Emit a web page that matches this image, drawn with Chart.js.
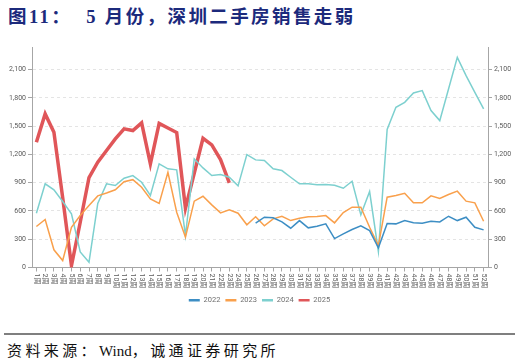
<!DOCTYPE html>
<html>
<head>
<meta charset="utf-8">
<script src="https://cdn.jsdelivr.net/npm/chart.js@4"></script>
<style>
  html, body { margin: 0; padding: 0; background: #fff; }
  body { width: 519px; height: 364px; position: relative; overflow: hidden; }
  #title { position: absolute; left: 8px; top: 2px; font: bold 18.5px "Liberation Serif", "Noto Sans CJK SC", serif; color: #1c2a7c; letter-spacing: 2.4px; white-space: nowrap; }
  #box { position: absolute; left: 0; top: 30px; width: 519px; height: 300px; }
  #rule { position: absolute; left: 4px; top: 333px; width: 511px; height: 2px; background: #7f7f7f; }
  #source { position: absolute; left: 7px; top: 339px; font: 15px "Liberation Serif", "Noto Sans CJK SC", serif; color: #111; letter-spacing: 3.4px; white-space: nowrap; }
  #source span { letter-spacing: 0; }
</style>
</head>
<body>
<div id="title">图11：&nbsp; 5 月份，深圳二手房销售走弱</div>
<div id="box"><canvas id="chart"></canvas></div>
<div id="rule"></div>
<div id="source">资料来源：<span>Wind</span>，诚通证券研究所</div>
<script>
const weeks = ['1周','2周','3周','4周','5周','6周','7周','8周','9周','10周','11周','12周','13周',
  '14周','15周','16周','17周','18周','19周','20周','21周','22周','23周','24周','25周','26周',
  '27周','28周','29周','30周','31周','32周','33周','34周','35周','36周','37周','38周','39周',
  '40周','41周','42周','43周','44周','45周','46周','47周','48周','49周','50周','51周','52周'];
const yTicks = [0, 300, 600, 900, 1200, 1500, 1800, 2100];

const sales2022 = [null, null, null, null, null, null, null, null, null, null, null, null, null,
  null, null, null, null, null, null, null, null, null, null, null, null,
  470, 534, 527, 484, 417, 498, 421, 438, 463, 307, 357, 403, 442, 392, 209,
  466, 463, 498, 474, 470, 491, 484, 544, 498, 534, 427, 399];
const sales2023 = [435, 509, 188, 74, 427, 551, 658, 760, 790, 825,
  910, 932, 852, 728, 679, 1011, 587, 322, 704, 756,
  665, 580, 612, 576, 453, 538, 442, 516, 544, 498,
  523, 538, 541, 551, 474, 583, 640, 640, 427, 233,
  746, 764, 788, 686, 686, 760, 732, 774, 810, 704,
  686, 491];
const sales2024 = [576, 888, 824, 700, 570, 165, 56, 680, 888, 870,
  947, 976, 905, 764, 1100, 1047, 1036, 339, 1153, 1057,
  976, 986, 958, 866, 1198, 1142, 1135, 1047, 1029, 958,
  888, 888, 877, 880, 873, 841, 915, 559, 806, 170,
  1465, 1700, 1753, 1852, 1877, 1665, 1559, 1895, 2230, 2036,
  1859, 1683];
const sales2025 = [1330, 1630, 1435, 740, 20, 480, 955, 1117, 1241, 1365,
  1471, 1453, 1535, 1100, 1530, 1481, 1432, 629, 1000, 1371,
  1301, 1145, 898];

const Y_MAX = 2340;
const AXIS_GREY = '#a6a6a6';
const TEXT_GREY = '#595959';

// x labels read top-to-bottom, so draw them ourselves at the scale's tick pixels
const verticalLabels = {
  id: 'verticalLabels',
  afterDraw(chart) {
    const xs = chart.scales.x;
    const ctx = chart.ctx;
    ctx.save();
    ctx.fillStyle = TEXT_GREY;
    ctx.font = '7px Roboto, "Noto Sans CJK SC", sans-serif';
    ctx.textAlign = 'left';
    ctx.textBaseline = 'middle';
    weeks.forEach((w, i) => {
      ctx.save();
      ctx.translate(xs.getPixelForTick(i), xs.top + 6);
      ctx.rotate(Math.PI / 2);
      ctx.fillText(w, 0, 0);
      ctx.restore();
    });
    ctx.restore();
  }
};

const fixedTicks = scale => { scale.ticks = yTicks.map(v => ({ value: v })); };

new Chart(document.getElementById('chart'), {
  type: 'line',
  data: {
    labels: weeks,
    datasets: [
      { label: '2022', data: sales2022, borderColor: '#3d8ec4', borderWidth: 1.5 },
      { label: '2023', data: sales2023, borderColor: '#f9a04c', borderWidth: 1.5 },
      { label: '2024', data: sales2024, borderColor: '#7dd0cf', borderWidth: 1.5 },
      { label: '2025', data: sales2025, borderColor: '#e05659', borderWidth: 3.5 }
    ]
  },
  options: {
    responsive: true,
    maintainAspectRatio: false,
    animation: false,
    elements: { point: { radius: 0 }, line: { tension: 0, fill: false } },
    layout: { padding: { top: 17, bottom: 16 } },
    plugins: {
      legend: {
        position: 'bottom',
        labels: {
          usePointStyle: true,
          pointStyle: 'line',
          pointStyleWidth: 11,
          padding: 5,
          color: '#6f6f6f',
          font: { family: 'Roboto, sans-serif', size: 7.5 },
          generateLabels(chart) {
            const items = Chart.defaults.plugins.legend.labels.generateLabels(chart);
            items.forEach(it => { it.lineWidth = 2.5; });
            return items;
          }
        }
      },
      tooltip: { enabled: false }
    },
    scales: {
      x: {
        offset: true,
        grid: { display: true, drawOnChartArea: false, tickLength: 4, color: AXIS_GREY },
        border: { color: AXIS_GREY },
        ticks: { autoSkip: false, maxRotation: 90, minRotation: 90, color: 'rgba(0,0,0,0)', font: { size: 7 } },
        afterFit(scale) { scale.height = 24; }
      },
      y: {
        position: 'left',
        min: 0,
        max: Y_MAX,
        afterBuildTicks: fixedTicks,
        grid: { color: '#e4e4e4', tickColor: AXIS_GREY, tickLength: 4 },
        border: { color: AXIS_GREY, dash: [3, 3] },
        ticks: { padding: 2, color: TEXT_GREY, font: { family: 'Roboto, sans-serif', size: 7 } },
        afterFit(scale) { scale.width = 32; }
      },
      y1: {
        position: 'right',
        min: 0,
        max: Y_MAX,
        afterBuildTicks: fixedTicks,
        grid: { drawOnChartArea: false, tickColor: AXIS_GREY, tickLength: 4 },
        border: { color: AXIS_GREY },
        ticks: { padding: 2, color: TEXT_GREY, font: { family: 'Roboto, sans-serif', size: 7 } },
        afterFit(scale) { scale.width = 31; }
      }
    }
  },
  plugins: [verticalLabels]
});
</script>
</body>
</html>
